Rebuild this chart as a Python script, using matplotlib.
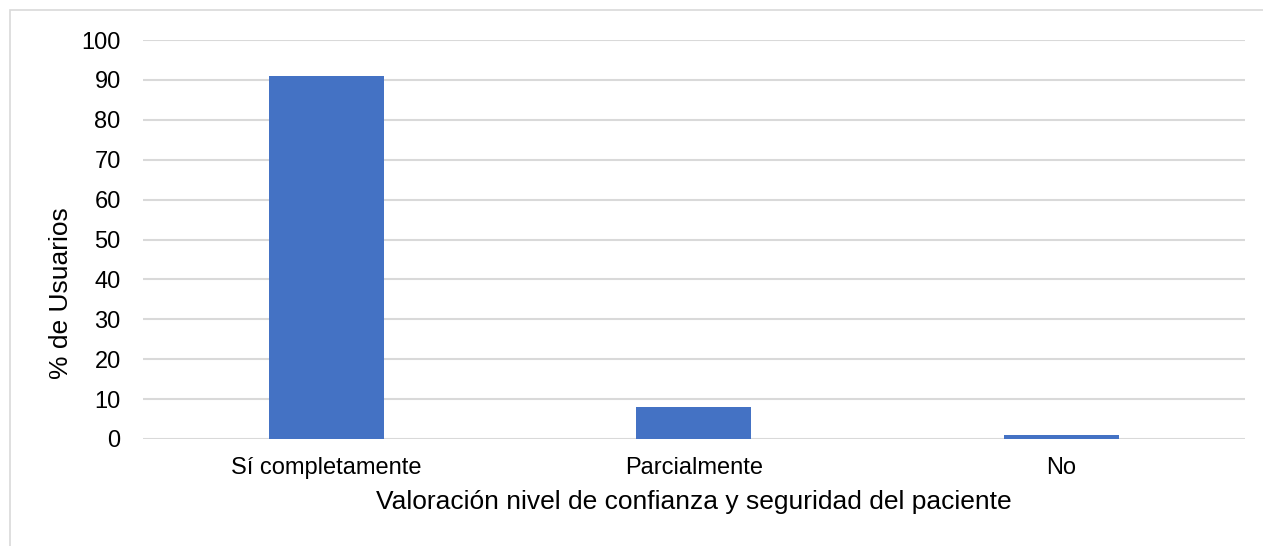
import matplotlib.pyplot as plt
from matplotlib.patches import Rectangle

# Datos
categorias = ['Sí completamente', 'Parcialmente', 'No']
porcentajes = [91, 8, 1]
ticks_y = list(range(0, 101, 10))

plt.rcParams['font.family'] = ['Liberation Sans', 'DejaVu Sans']

fig = plt.figure(figsize=(12.63, 5.46), dpi=100)
ax = fig.add_axes([0.1132, 0.196, 0.8725, 0.7307])

# borde gris del gráfico
fig.patches.append(Rectangle((10 / 1263, -0.01), 1.1, 1 - 10 / 546 + 0.01,
                             transform=fig.transFigure, fill=False,
                             edgecolor='#d9d9d9', linewidth=1.2))

x = range(len(categorias))
ax.bar(x, porcentajes, width=0.313, color='#4472C4', zorder=3)

ax.set_xlim(-0.5, len(categorias) - 0.5)
ax.set_ylim(0, 100)
ax.set_yticks(ticks_y)
ax.set_xticks(list(x))
ax.set_xticklabels(categorias)

ax.grid(axis='y', color='#d9d9d9', linewidth=1.5, zorder=0)
for s in ax.spines.values():
    s.set_visible(False)
ax.tick_params(axis='both', length=0, labelsize=17, colors='black')
ax.tick_params(axis='y', pad=16)
ax.tick_params(axis='x', pad=13)

ax.set_xlabel('Valoración nivel de confianza y seguridad del paciente', fontsize=19, labelpad=8)
# el título del eje Y está algo más abajo que el centro
fig.text(61 / 1263, 1 - 293 / 546, '% de Usuarios', fontsize=19,
         rotation=90, ha='center', va='center')

fig.savefig('out.png', dpi=100)
